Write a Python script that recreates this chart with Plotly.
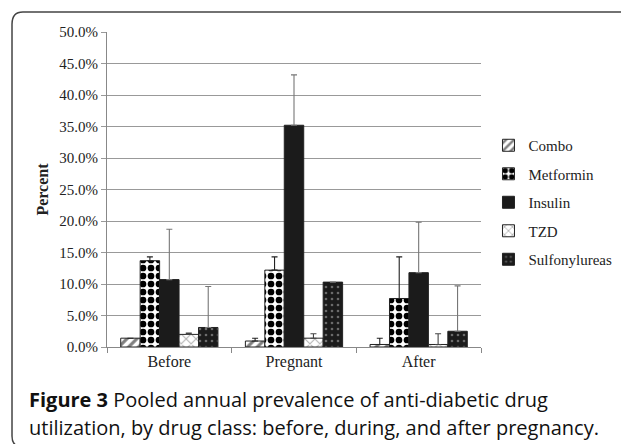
import plotly.graph_objects as go

categories = ["Before", "Pregnant", "After"]
series_names = ["Combo", "Metformin", "Insulin", "TZD", "Sulfonylureas"]
combo = [1.4, 0.95, 0.4]
metformin = [13.7, 12.2, 7.7]
insulin = [10.7, 35.2, 11.8]
tzd = [2.0, 1.4, 0.4]
sulfonylureas = [3.1, 10.3, 2.5]
combo_err = [0.0, 0.45, 1.0]
metformin_err = [0.6, 2.1, 6.6]
insulin_err = [8.0, 8.0, 8.0]
tzd_err = [0.2, 0.7, 1.7]
sulfonylureas_err = [6.5, 0.0, 7.2]
y_ticks = [0, 5, 10, 15, 20, 25, 30, 35, 40, 45, 50]

values = [combo, metformin, insulin, tzd, sulfonylureas]
errors = [combo_err, metformin_err, insulin_err, tzd_err, sulfonylureas_err]
styles = [
    dict(color="white", pattern=dict(shape="/", fgcolor="black", bgcolor="white", size=7, solidity=0.45), err="#222"),
    dict(color="white", pattern=dict(shape=".", fgcolor="black", bgcolor="white", fgopacity=1, size=8, solidity=0.55), err="#222"),
    dict(color="#1b1b1b", pattern=None, err="#777"),
    dict(color="white", pattern=dict(shape="x", fgcolor="#666", bgcolor="white", size=7, solidity=0.3), err="#444"),
    dict(color="#1b1b1b", pattern=dict(shape=".", fgcolor="#bbbbbb", bgcolor="#1b1b1b", size=6, solidity=0.15), err="#777"),
]

serif = "Liberation Serif"
fig = go.Figure()
for name, vals, errs, st in zip(series_names, values, errors, styles):
    marker = dict(color=st["color"], line=dict(color="#222", width=1))
    if st["pattern"]:
        marker["pattern"] = st["pattern"]
    fig.add_trace(go.Bar(
        x=categories, y=vals, name=name, marker=marker, legendgroup=name,
        error_y=dict(type="data", array=errs, symmetric=False, arrayminus=[0]*3,
                     color=st["err"], thickness=1.1, width=3),
    ))

# page has an 8px body margin, so the figure is 621x436 drawn from (8,8)
fig.update_layout(
    width=621, height=436,
    margin=dict(l=99, r=144, t=24, b=97),
    paper_bgcolor="white", plot_bgcolor="white",
    barmode="group", bargap=0.22, bargroupgap=0,
    font=dict(family=serif, size=15, color="#222"),
    legend=dict(x=1.02, y=0.692, xanchor="left", yanchor="top",
                font=dict(family=serif, size=15, color="#222"),
                itemwidth=30, traceorder="grouped", tracegroupgap=6),
    showlegend=True,
    xaxis=dict(showline=True, linecolor="#888", linewidth=1, ticks="outside",
               tickson="boundaries", ticklen=5, tickcolor="#888",
               tickfont=dict(family=serif, size=16, color="#222")),
    yaxis=dict(range=[0, 50], tickvals=y_ticks,
               ticktext=[f"{v:.1f}%" for v in y_ticks],
               showline=True, linecolor="#888", linewidth=1,
               gridcolor="#999", gridwidth=1, ticks="outside", ticklen=5, tickcolor="#999",
               tickfont=dict(family=serif, size=15, color="#222"),
               title=dict(text="<b>Percent</b>", font=dict(family=serif, size=16, color="#222"), standoff=6)),
    shapes=[dict(type="path", xref="paper", yref="paper",
                 path="M 1.45,-0.3175 L -0.225,-0.3175 Q -0.2540,-0.3175 -0.2540,-0.2825 "
                      "L -0.2540,1.025 Q -0.2540,1.0635 -0.225,1.0635 L 1.45,1.0635",
                 line=dict(color="#444", width=1.5))],
    annotations=[
        dict(xref="paper", yref="paper", x=-0.215, y=-0.168, xanchor="left", yanchor="middle",
             showarrow=False,
             text="<b>Figure 3</b> Pooled annual prevalence of anti-diabetic drug",
             font=dict(family="Open Sans", size=20, color="#111")),
        dict(xref="paper", yref="paper", x=-0.215, y=-0.257, xanchor="left", yanchor="middle",
             showarrow=False,
             text="utilization, by drug class: before, during, and after pregnancy.",
             font=dict(family="Open Sans", size=20, color="#111")),
    ],
)
fig.write_html("out.html")
